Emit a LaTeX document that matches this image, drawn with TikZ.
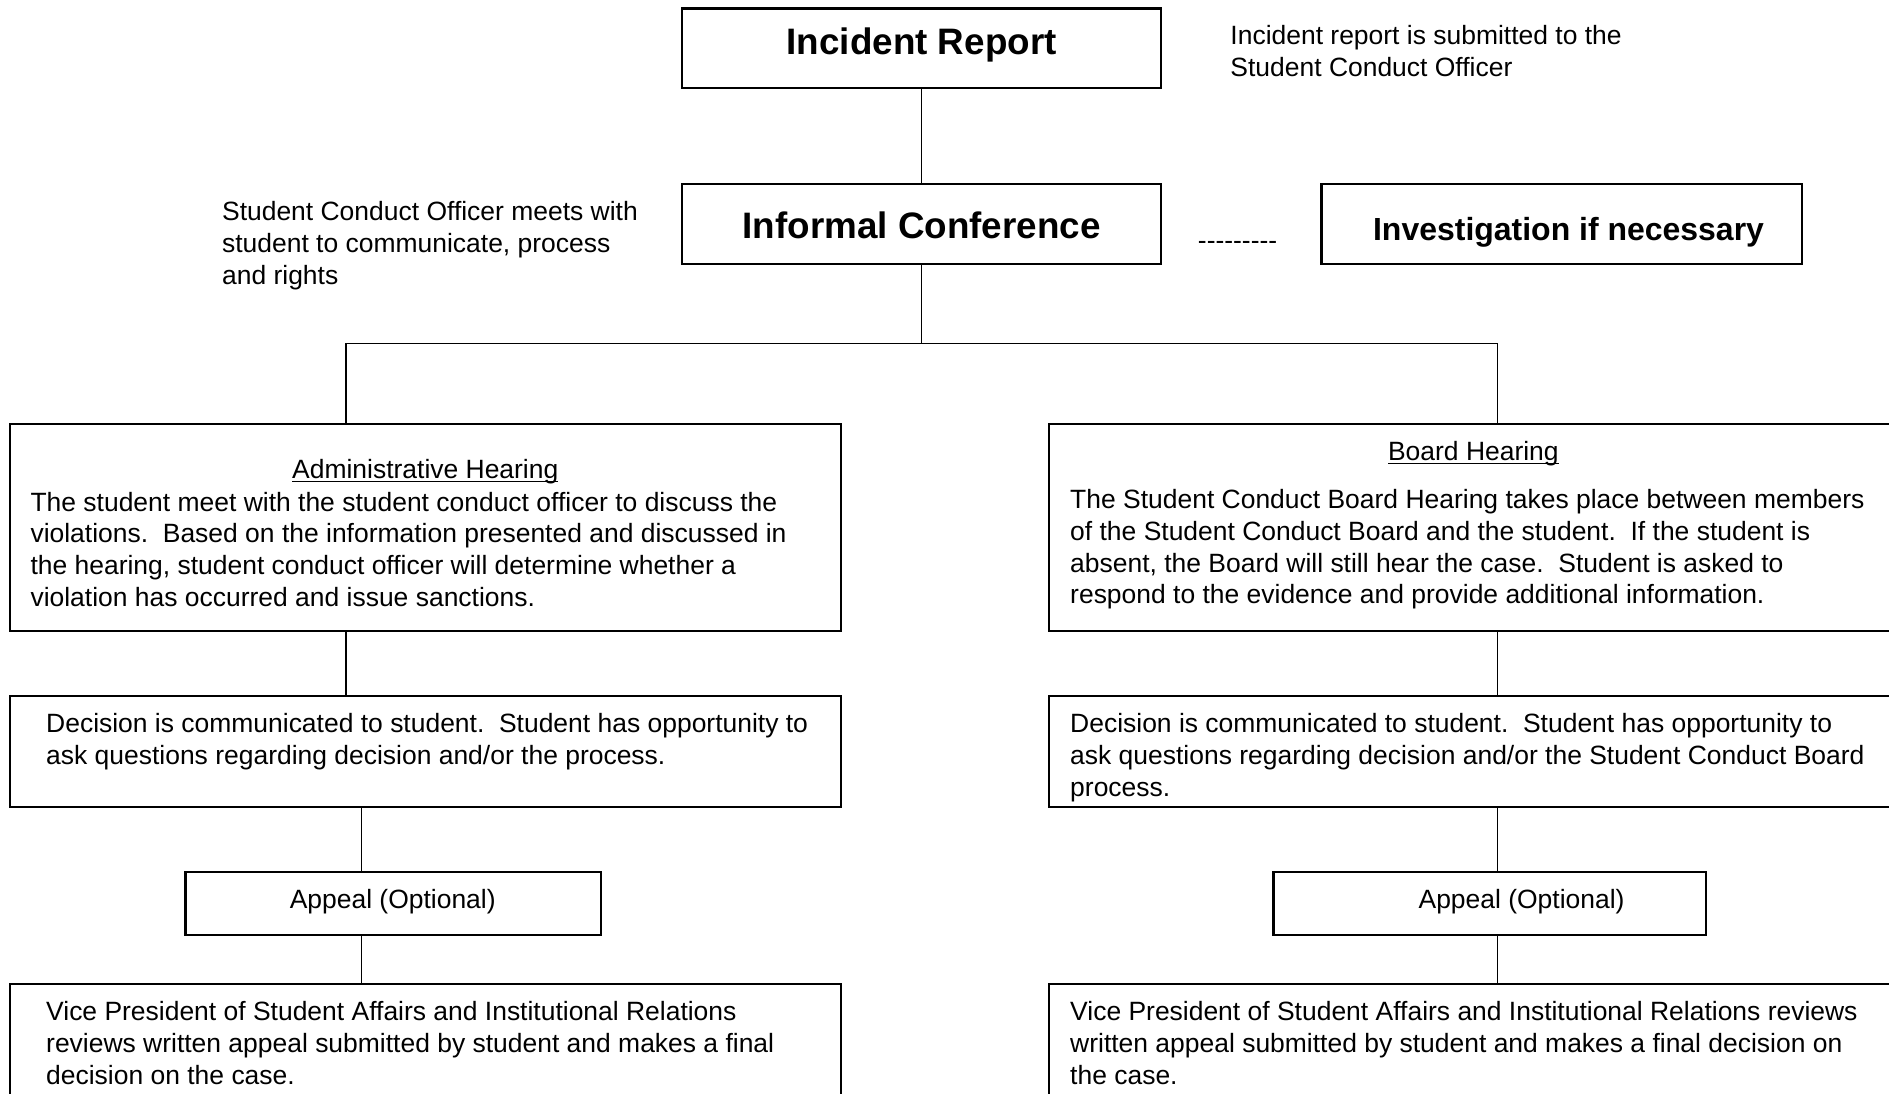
\documentclass[tikz,border=0pt]{standalone}
\usepackage{fontspec}
\setmainfont{Liberation Sans}
\usetikzlibrary{fit}
\frenchspacing
\newcommand\myul[1]{\setbox0\hbox{#1}\rlap{\rule[-1.7pt]{\wd0}{0.6pt}}\box0}
\begin{document}
\begin{tikzpicture}[x=0.5464pt, y=-0.5464pt,
  box/.style={draw, line width=1pt, inner sep=0pt},
  conn/.style={line width=0.7pt},
  txt/.style={inner sep=0pt, align=left, anchor=north west, font=\fontsize{12}{14.4}\selectfont},
  one/.style={inner sep=0pt, anchor=base, font=\fontsize{12}{14.4}\selectfont},
  big/.style={inner sep=0pt, anchor=base, font=\fontsize{16.7}{20}\selectfont\bfseries}]
\fill[white] (0,0) rectangle (1568,908);
\useasboundingbox (0,0) rectangle (1568,908);

% boxes
\node[box, fit={(566,7) (964,73)}] (ir) {};
\node[box, fit={(566,153) (964,219)}] (ic) {};
\node[box, fit={(1097,153) (1496,219)}] (inv) {};
\node[box, fit={(8,352) (698,524)}] (adm) {};
\node[box, fit={(871,352) (1580,524)}] (brd) {};
\node[box, fit={(8,578) (698,670)}] (decL) {};
\node[box, fit={(871,578) (1580,670)}] (decR) {};
\node[box, fit={(154,724) (499,776)}] (apL) {};
\node[box, fit={(1057,724) (1416,776)}] (apR) {};
\node[box, fit={(8,817) (698,920)}] (vpL) {};
\node[box, fit={(871,817) (1580,920)}] (vpR) {};

% connectors
\coordinate (jL) at (287,285);
\coordinate (jR) at (1243,285);
\coordinate (cL) at (300,0);
\draw[conn] (ir) -- (ic);
\draw[conn] (ic.south) |- (jL) -- (jL |- adm.north);
\draw[conn] (ic.south) |- (jR) -- (jR |- brd.north);
\draw[conn] (jL |- adm.south) -- (jL |- decL.north);
\draw[conn] (cL |- decL.south) -- (cL |- apL.north);
\draw[conn] (cL |- apL.south) -- (cL |- vpL.north);
\draw[conn] (jR |- brd.south) -- (jR |- decR.north);
\draw[conn] (jR |- decR.south) -- (jR |- apR.north);
\draw[conn] (jR |- apR.south) -- (jR |- vpR.north);

% texts
\node[big] (irt) at (765,45) {Incident Report};
\node[big] (ict) at (765,198) {Informal Conference};
\node[inner sep=0pt, anchor=base, font=\fontsize{14.5}{17}\selectfont\bfseries] (invt) at (1302,200) {Investigation if necessary};
\node[one, anchor=base west] (dash) at (994,207) {-\kern0pt-\kern0pt-\kern0pt-\kern0pt-\kern0pt-\kern0pt-\kern0pt-\kern0pt-};
\node[txt] (n1) at (1021,21) {Incident report is submitted to the\\Student Conduct Officer};
\node[txt] (n2) at (184,167) {Student Conduct Officer meets with\\student to communicate, process\\and rights};
\node[one] (admt) at (353,397) {\myul{Administrative Hearing}};
\node[txt] (admb) at (25,408) {The student meet with the student conduct officer to discuss the\\violations.~ Based on the information presented and discussed in\\the hearing, student conduct officer will determine whether a\\violation has occurred and issue sanctions.};
\node[one] (brdt) at (1223,382) {\myul{Board Hearing}};
\node[txt] (brdb) at (888,406) {The Student Conduct Board Hearing takes place between members\\of the Student Conduct Board and the student.~ If the student is\\absent, the Board will still hear the case.~ Student is asked to\\respond to the evidence and provide additional information.};
\node[txt] (decLt) at (38,592) {Decision is communicated to student.~ Student has opportunity to\\ask questions regarding decision and/or the process.};
\node[txt] (decRt) at (888,592) {Decision is communicated to student.~ Student has opportunity to\\ask questions regarding decision and/or the Student Conduct Board\\process.};
\node[one] (apLt) at (326,754) {Appeal (Optional)};
\node[one] (apRt) at (1263,754) {Appeal (Optional)};
\node[txt] (vpLt) at (38,831) {Vice President of Student Affairs and Institutional Relations\\reviews written appeal submitted by student and makes a final\\decision on the case.};
\node[txt] (vpRt) at (888,831) {Vice President of Student Affairs and Institutional Relations reviews\\written appeal submitted by student and makes a final decision on\\the case.};
\end{tikzpicture}
\end{document}
